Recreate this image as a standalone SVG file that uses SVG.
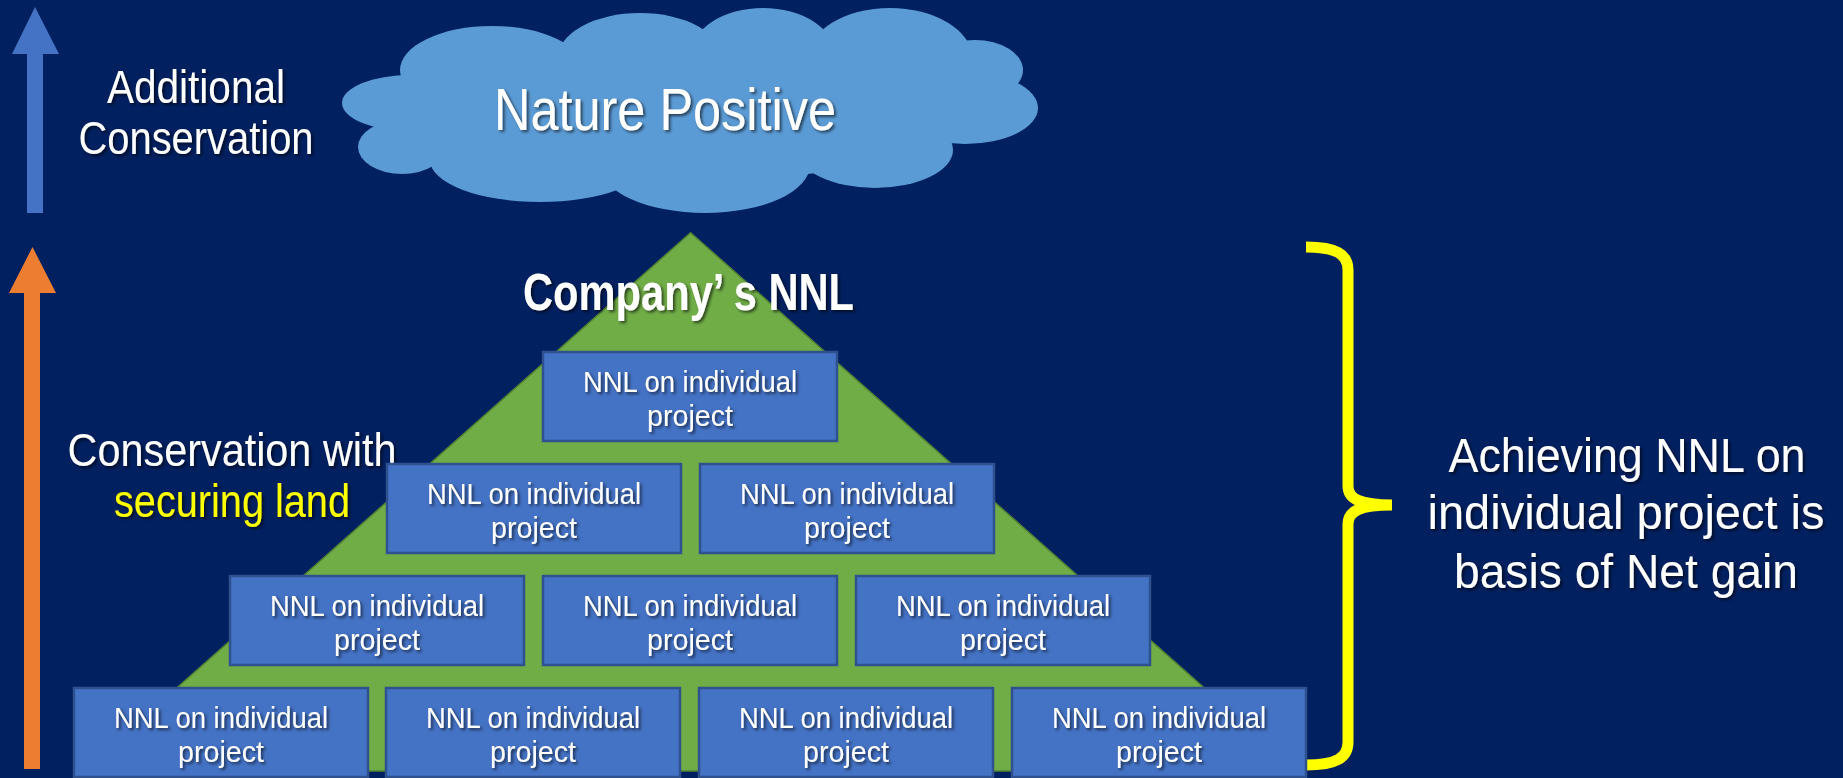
<svg xmlns="http://www.w3.org/2000/svg" width="1843" height="778" viewBox="0 0 1843 778">
  <defs>
    <filter id="shadow" x="-10%" y="-30%" width="120%" height="160%">
      <feDropShadow dx="2" dy="2" stdDeviation="1.5" flood-color="#000000" flood-opacity="0.6"/>
    </filter>
  </defs>
  <style>
    .bg { fill: #002060; }
    .txt { font-family: "Liberation Sans", Arial, sans-serif; fill: #FFFFFF; text-anchor: middle; filter: url(#shadow); }
    .yellow { fill: #FFFF00; }
    .box rect { fill: #4472C4; stroke: #2F528F; stroke-width: 2.5; }
    .box text { font-size: 30px; }
    .cloud { fill: #5B9BD5; }
    .pyramid { fill: #70AD47; stroke: #548235; stroke-width: 1.5; }
  </style>

  <rect class="bg" x="0" y="0" width="1843" height="778"/>

  <!-- cloud: union of overlapping ellipses -->
  <g id="nature-positive">
    <g class="cloud">
      <ellipse cx="690" cy="110" rx="290" ry="70"/>
      <ellipse cx="492" cy="70" rx="92" ry="44"/>
      <ellipse cx="640" cy="58" rx="82" ry="45"/>
      <ellipse cx="763" cy="55" rx="72" ry="47"/>
      <ellipse cx="890" cy="58" rx="82" ry="50"/>
      <ellipse cx="975" cy="70" rx="48" ry="30"/>
      <ellipse cx="965" cy="108" rx="73" ry="36"/>
      <ellipse cx="875" cy="150" rx="78" ry="38"/>
      <ellipse cx="705" cy="165" rx="105" ry="48"/>
      <ellipse cx="540" cy="160" rx="110" ry="42"/>
      <ellipse cx="402" cy="147" rx="44" ry="27"/>
      <ellipse cx="410" cy="103" rx="68" ry="28"/>
    </g>
    <text class="txt" x="665" y="130" font-size="60" textLength="342" lengthAdjust="spacingAndGlyphs">Nature Positive</text>
  </g>

  <!-- arrows and brace -->
  <g id="connectors">
    <polygon points="35,7 59,54 43,54 43,213 27,213 27,54 12,54" fill="#4472C4"/>
    <polygon points="32.5,247 56,293 40,293 40,769 24,769 24,293 9,293" fill="#ED7D31"/>
    <path d="M1306,247 C1336,247 1348,254 1348,270 L1348,486 C1348,499 1360,505 1392,505 C1360,505 1348,511 1348,524 L1348,742 C1348,758 1336,765 1306,765" fill="none" stroke="#FFFF00" stroke-width="11"/>
  </g>

  <g id="label-additional">
    <text class="txt" x="196" y="103" font-size="46" textLength="178" lengthAdjust="spacingAndGlyphs">Additional</text>
    <text class="txt" x="196" y="154" font-size="46" textLength="235" lengthAdjust="spacingAndGlyphs">Conservation</text>
  </g>

  <g id="label-securing">
    <text class="txt" x="232" y="466" font-size="46" textLength="329" lengthAdjust="spacingAndGlyphs">Conservation with</text>
    <text class="txt yellow" x="232" y="517" font-size="46" textLength="236" lengthAdjust="spacingAndGlyphs">securing land</text>
  </g>

  <g id="company-nnl">
    <polygon class="pyramid" points="690.6,232.7 1298,771 83,771"/>
    <text class="txt" x="688.5" y="310" font-size="52" font-weight="bold" textLength="331" lengthAdjust="spacingAndGlyphs">Company’ s NNL</text>
  </g>

  <!-- project boxes: width 294, height 89, pitch 313 x 112, centred on x=690 -->
  <g id="row1">
    <g id="p1" class="box"><rect x="543" y="352" width="294" height="89"/><text class="txt" x="690" y="392" textLength="214" lengthAdjust="spacingAndGlyphs">NNL on individual</text><text class="txt" x="690" y="426" textLength="86" lengthAdjust="spacingAndGlyphs">project</text></g>
  </g>
  <g id="row2">
    <g id="p2" class="box"><rect x="387" y="464" width="294" height="89"/><text class="txt" x="534" y="504" textLength="214" lengthAdjust="spacingAndGlyphs">NNL on individual</text><text class="txt" x="534" y="538" textLength="86" lengthAdjust="spacingAndGlyphs">project</text></g>
    <g id="p3" class="box"><rect x="700" y="464" width="294" height="89"/><text class="txt" x="847" y="504" textLength="214" lengthAdjust="spacingAndGlyphs">NNL on individual</text><text class="txt" x="847" y="538" textLength="86" lengthAdjust="spacingAndGlyphs">project</text></g>
  </g>
  <g id="row3">
    <g id="p4" class="box"><rect x="230" y="576" width="294" height="89"/><text class="txt" x="377" y="616" textLength="214" lengthAdjust="spacingAndGlyphs">NNL on individual</text><text class="txt" x="377" y="650" textLength="86" lengthAdjust="spacingAndGlyphs">project</text></g>
    <g id="p5" class="box"><rect x="543" y="576" width="294" height="89"/><text class="txt" x="690" y="616" textLength="214" lengthAdjust="spacingAndGlyphs">NNL on individual</text><text class="txt" x="690" y="650" textLength="86" lengthAdjust="spacingAndGlyphs">project</text></g>
    <g id="p6" class="box"><rect x="856" y="576" width="294" height="89"/><text class="txt" x="1003" y="616" textLength="214" lengthAdjust="spacingAndGlyphs">NNL on individual</text><text class="txt" x="1003" y="650" textLength="86" lengthAdjust="spacingAndGlyphs">project</text></g>
  </g>
  <g id="row4">
    <g id="p7" class="box"><rect x="74" y="688" width="294" height="89"/><text class="txt" x="221" y="728" textLength="214" lengthAdjust="spacingAndGlyphs">NNL on individual</text><text class="txt" x="221" y="762" textLength="86" lengthAdjust="spacingAndGlyphs">project</text></g>
    <g id="p8" class="box"><rect x="386" y="688" width="294" height="89"/><text class="txt" x="533" y="728" textLength="214" lengthAdjust="spacingAndGlyphs">NNL on individual</text><text class="txt" x="533" y="762" textLength="86" lengthAdjust="spacingAndGlyphs">project</text></g>
    <g id="p9" class="box"><rect x="699" y="688" width="294" height="89"/><text class="txt" x="846" y="728" textLength="214" lengthAdjust="spacingAndGlyphs">NNL on individual</text><text class="txt" x="846" y="762" textLength="86" lengthAdjust="spacingAndGlyphs">project</text></g>
    <g id="p10" class="box"><rect x="1012" y="688" width="294" height="89"/><text class="txt" x="1159" y="728" textLength="214" lengthAdjust="spacingAndGlyphs">NNL on individual</text><text class="txt" x="1159" y="762" textLength="86" lengthAdjust="spacingAndGlyphs">project</text></g>
  </g>

  <g id="label-basis">
    <text class="txt" x="1627" y="472" font-size="48" textLength="357" lengthAdjust="spacingAndGlyphs">Achieving NNL on</text>
    <text class="txt" x="1626" y="529" font-size="48" textLength="397" lengthAdjust="spacingAndGlyphs">individual project is</text>
    <text class="txt" x="1626" y="588" font-size="48" textLength="344" lengthAdjust="spacingAndGlyphs">basis of Net gain</text>
  </g>
</svg>
